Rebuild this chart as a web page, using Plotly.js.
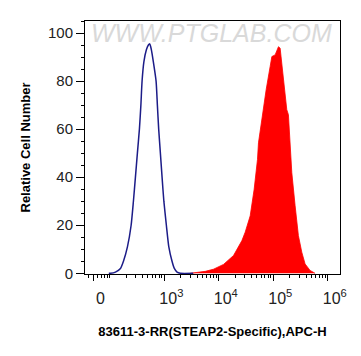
<!DOCTYPE html>
<html>
<head>
<meta charset="utf-8">
<script src="https://cdn.plot.ly/plotly-3.0.1.min.js"></script>
<style>html,body{margin:0;padding:0;background:#fff;}#chart{width:361px;height:356px;}</style>
</head>
<body>
<div id="chart"></div>
<script>
// x values are in display (decade) units: 3 = 10^3, 4 = 10^4 ...
var controlX = [1.98, 2.010, 2.102, 2.194, 2.249, 2.322, 2.390, 2.432, 2.469, 2.505, 2.542, 2.569, 2.591, 2.624, 2.670, 2.707, 2.731, 2.762, 2.798, 2.848, 2.872, 2.896, 2.927, 2.958, 2.991, 3.037, 3.082, 3.141, 3.183, 3.233, 3.293, 3.53];
var controlY = [0, 0, 0.5, 2, 5, 11, 20, 30, 40, 50, 60, 70, 80, 88, 93, 95, 95.5, 93, 88, 80, 70, 60, 50, 40, 30, 20, 11, 5, 2, 0.5, 0, 0];

var stainedX = [3.476, 3.599, 3.751, 3.903, 4.087, 4.270, 4.424, 4.484, 4.576, 4.649, 4.710, 4.728, 4.772, 4.820, 4.869, 4.942, 4.974, 5.034, 5.095, 5.126, 5.157, 5.205, 5.248, 5.278, 5.296, 5.322, 5.340, 5.401, 5.461, 5.523, 5.584, 5.675, 5.767];
var stainedY = [0, 0.4, 0.8, 1.7, 3.7, 7.4, 13.6, 17.1, 23.9, 35.0, 47.4, 54.3, 61.2, 69.5, 76.4, 86.0, 90.2, 90.9, 94.3, 93.7, 87.5, 77.8, 68.1, 66.0, 58.5, 51.6, 41.9, 28.1, 15.7, 8.8, 3.9, 1.2, 0];

var xTickVals = [1.70, 3, 4, 5, 6];
var xTickText = ['0', '10<sup>3</sup>', '10<sup>4</sup>', '10<sup>5</sup>', '10<sup>6</sup>'];
var xMinorVals = [];
[1, 10, 100, 1000, 10000, 100000].forEach(function (base) {
  for (var k = 2; k <= 10; k++) {
    var v = Math.log10(k * base);
    if (v > 1.58 && v < 6.2) xMinorVals.push(v);
  }
});

var xTitle = '83611-3-RR(STEAP2-Specific),APC-H';
var yTitle = 'Relative Cell Number';

var traces = [
  {
    x: stainedX, y: stainedY, type: 'scatter', mode: 'lines',
    fill: 'tozeroy', fillcolor: '#ff0000',
    line: {color: '#ff0000', width: 0.8, shape: 'linear'},
    hoverinfo: 'skip'
  },
  {
    x: controlX, y: controlY, type: 'scatter', mode: 'lines',
    line: {color: '#1c1c88', width: 1.5, shape: 'spline', smoothing: 0.6},
    hoverinfo: 'skip'
  }
];

var layout = {
  width: 361, height: 356,
  margin: {l: 84.5, r: 21, t: 20.7, b: 81.5},
  paper_bgcolor: '#ffffff', plot_bgcolor: '#ffffff',
  showlegend: false,
  font: {family: 'Liberation Sans, Arial, sans-serif', color: '#222'},
  xaxis: {
    range: [1.543, 6.225],
    tickmode: 'array', tickvals: xTickVals, ticktext: xTickText,
    ticks: 'outside', ticklen: 6, tickwidth: 1, tickcolor: '#000',
    ticklabelshift: 7, ticklabelstandoff: 4,
    minor: {tickmode: 'array', tickvals: xMinorVals, ticks: 'outside', ticklen: 3, tickwidth: 1, tickcolor: '#000'},
    showgrid: false, zeroline: false,
    showline: true, linecolor: '#000', linewidth: 1, mirror: true,
    tickfont: {size: 16, color: '#222'},
    title: {text: xTitle, font: {size: 13, color: '#000', family: 'Liberation Sans, Arial, sans-serif', weight: 'bold'}, standoff: 20}
  },
  yaxis: {
    range: [-0.3, 105],
    tickmode: 'linear', tick0: 0, dtick: 20,
    ticks: 'outside', ticklen: 8, tickwidth: 1, tickcolor: '#000',
    minor: {dtick: 5, ticks: 'outside', ticklen: 3, tickwidth: 1, tickcolor: '#000'},
    showgrid: false, zeroline: false,
    showline: true, linecolor: '#000', linewidth: 1, mirror: true,
    tickfont: {size: 15, color: '#222'},
    title: {text: yTitle, font: {size: 13, color: '#000', family: 'Liberation Sans, Arial, sans-serif', weight: 'bold'}, standoff: 14}
  },
  annotations: [{
    text: 'WWW.PTGLAB.COM', xref: 'paper', yref: 'paper', x: 0.495, y: 0.951,
    xanchor: 'center', yanchor: 'middle', showarrow: false,
    font: {size: 25, color: '#d9d9d9', family: 'Liberation Sans, Arial, sans-serif', style: 'italic'}
  }]
};

Plotly.newPlot('chart', traces, layout, {displayModeBar: false, staticPlot: true});
</script>
</body>
</html>
